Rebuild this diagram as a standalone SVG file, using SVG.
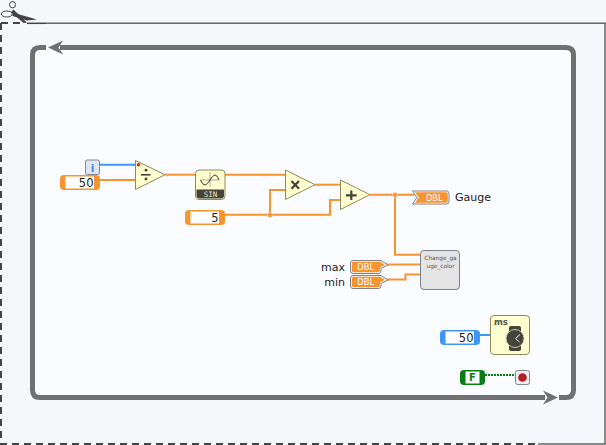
<svg xmlns="http://www.w3.org/2000/svg" width="606" height="445" viewBox="0 0 606 445">
<style>
text{font-family:"DejaVu Sans",sans-serif}
.w{fill:none;stroke:#f7942f;stroke-width:2}
.b{fill:none;stroke:#3f97f5;stroke-width:2}
.prim{fill:#ffffcf;stroke:#8f8a5a;stroke-width:1;stroke-linejoin:round}
.sym{fill:#44443a}
.const{fill:#f7942f}
.val{font-size:11.500px;fill:#222;text-anchor:end}
.lab{font-size:11px;fill:#222}
.dbl{font-size:8.300px;fill:#fff;text-anchor:middle}
.termo{fill:#fbfcff;stroke:#7d8288;stroke-width:1}
.j{fill:#f7942f;stroke:#fdd9b0;stroke-width:.7}
</style>
<rect width="606" height="445" fill="#f5f8fb"/>
<g id="frame">
<rect x="32" y="47" width="542" height="351" rx="7" fill="#fbfcff"/>
<path d="M46 47.500H40Q32.500 47.500 32.500 55V390Q32.500 397.500 40 397.500H545" fill="none" stroke="#707070" stroke-width="5"/>
<path d="M559 397.500H566Q573.500 397.500 573.500 390V55Q573.500 47.500 566 47.500H60" fill="none" stroke="#707070" stroke-width="5"/>
<path d="M48 47.500L63 40.500L58.500 47.500L63 54.500Z" fill="#707070"/>
<path d="M558 397.500L543 390.500L547.500 397.500L543 404.500Z" fill="#707070"/>
<path d="M27 23.300H46" fill="none" stroke="#444" stroke-width="1.500"/>
<path d="M46 23.300H606M605 23V444M606 444H538" fill="none" stroke="#666" stroke-width="1.500"/>
<path d="M20 23H0M1 23V444H538" fill="none" stroke="#444" stroke-width="2" stroke-dasharray="7 5"/>
<g id="scissors">
<path d="M13.500 9.500L27 22.800L23.500 23L11 12Z" fill="#444"/>
<path d="M12.500 12.500L37 19.500L27 20.500L12.500 16Z" fill="#444"/>
<ellipse cx="12.500" cy="4.700" rx="3" ry="3.200" fill="#f5f8fb" stroke="#444" stroke-width="1"/>
<ellipse cx="6.800" cy="14" rx="5.500" ry="3" fill="#f5f8fb" stroke="#444" stroke-width="1"/>
</g>
</g>
<g id="wires">
<path class="b" d="M100 164.700H136"/>
<path class="w" d="M99 180H136"/>
<path class="w" d="M165 174.700H196"/>
<path class="w" d="M225 174.700H286"/>
<path class="w" d="M225 214.700H330V200H341"/>
<path class="w" d="M270 214.700V190H286"/>
<path class="w" d="M315 184.700H341"/>
<path class="w" d="M370 194.700H414"/>
<path class="w" d="M395 194.700V254.700H421"/>
<path class="w" d="M386 264.500H421"/>
<path class="w" d="M386 279.500H405.500V274.500H421"/>
<path class="b" d="M479 335H491"/>
<path d="M485 375H516" fill="none" stroke="#0a7d12" stroke-width="2" stroke-dasharray="2 1"/>
<circle cx="270" cy="215" r="2.500" class="j"/>
<circle cx="395" cy="195" r="2.500" class="j"/>
</g>
<g id="i-terminal">
<rect x="85.500" y="160" width="14" height="14.500" rx="2" fill="#dfe6f2" stroke="#80868e"/>
<text x="92.500" y="171.500" font-size="10.500" font-weight="bold" text-anchor="middle" fill="#3f87e5">i</text>
</g>
<g id="const-50">
<rect x="60" y="175" width="40" height="15" rx="4" class="const"/>
<rect x="65.500" y="176.500" width="28.500" height="12" fill="#fff"/>
<text x="93.500" y="186.500" class="val">50</text>
</g>
<g id="divide">
<path class="prim" d="M135.500 160.500L165 174.700L135.500 189.500Z"/>
<circle cx="138.500" cy="164.700" r="1.800" fill="#ee2222"/>
<rect x="141" y="174" width="9.500" height="1.600" class="sym"/>
<circle cx="146" cy="170.200" r="1.400" class="sym"/><circle cx="146" cy="179" r="1.400" class="sym"/>
</g>
<g id="sine">
<rect x="195.500" y="170" width="29.500" height="29.500" rx="3.500" class="prim"/>
<path d="M196.500 189.500H224V195.500Q224 198.500 221 198.500H199.500Q196.500 198.500 196.500 195.500Z" fill="#44443a"/>
<text x="210.500" y="196.800" font-size="7.500" fill="#e8e8d8" text-anchor="middle" style="font-family:'DejaVu Sans Mono',monospace">SIN</text>
<path d="M200.500 180H219M210 172V187" stroke="#777" stroke-width=".6" fill="none"/>
<path d="M200.500 180C204 187 206 186 210 180S216 173 219 180" stroke="#333" stroke-width="1" fill="none"/>
</g>
<g id="const-5">
<rect x="185" y="210" width="40" height="15" rx="4" class="const"/>
<rect x="190.500" y="211.500" width="28.500" height="12" fill="#fff"/>
<text x="218.500" y="221.500" class="val">5</text>
</g>
<g id="multiply">
<path class="prim" d="M285.500 170L315 184.700L285.500 199.500Z"/>
<path d="M291.500 181L299 188.800M299 181L291.500 188.800" stroke="#44443a" stroke-width="2.200"/>
</g>
<g id="add">
<path class="prim" d="M340.500 180L370 194.700L340.500 209.500Z"/>
<path d="M346 195.300H356.700M351.300 190.500V200" stroke="#44443a" stroke-width="2.200"/>
</g>
<g id="gauge">
<path d="M412.500 191H446.500Q449 191 449 193.500V201.500Q449 204 446.500 204H412.500L417 197.500Z" class="termo"/>
<path d="M415 192.300H446Q447.800 192.300 447.800 194V201Q447.800 202.800 446 202.800H415L419 197.500Z" fill="#f7942f"/>
<text x="434.300" y="200.800" class="dbl">DBL</text>
<text x="455" y="201" class="lab">Gauge</text>
</g>
<g id="subvi">
<rect x="420.500" y="250.500" width="39" height="39" rx="3.500" fill="#e4e4e4" stroke="#7d8288"/>
<text x="440.500" y="259.500" font-size="5.800" fill="#555" text-anchor="middle">Change_ga</text>
<text x="440.500" y="268" font-size="5.800" fill="#555" text-anchor="middle">uge_color</text>
</g>
<g id="max">
<path d="M353 260.500H381L388 265L381 268.500V271Q381 273.500 378.500 273.500H353Q350.500 273.500 350.500 271V263Q350.500 260.500 353 260.500Z" class="termo"/>
<path d="M353.500 261.800H380L385 265L380 267.500V270Q380 272.300 378 272.300H353.500Q351.800 272.300 351.800 270V263.500Q351.800 261.800 353.500 261.800Z" fill="#f7942f"/>
<text x="365.700" y="270.300" class="dbl">DBL</text>
<text x="345" y="271" class="lab" text-anchor="end">max</text>
</g>
<g id="min">
<path d="M353 275.500H381L388 280L381 283.500V286Q381 288.500 378.500 288.500H353Q350.500 288.500 350.500 286V278Q350.500 275.500 353 275.500Z" class="termo"/>
<path d="M353.500 276.800H380L385 280L380 282.500V285Q380 287.300 378 287.300H353.500Q351.800 287.300 351.800 285V278.500Q351.800 276.800 353.500 276.800Z" fill="#f7942f"/>
<text x="365.700" y="285.300" class="dbl">DBL</text>
<text x="345" y="286" class="lab" text-anchor="end">min</text>
</g>
<g id="const-ms">
<rect x="440" y="330" width="40" height="15" rx="4" fill="#3f97f5"/>
<rect x="445.500" y="331.500" width="28.500" height="12" fill="#fff"/>
<text x="473.500" y="341.500" class="val">50</text>
</g>
<g id="wait">
<rect x="490.500" y="315.500" width="39" height="39" rx="3.500" class="prim"/>
<text x="494" y="325" font-size="8.500" font-weight="bold" fill="#55554a">ms</text>
<rect x="509" y="326" width="12" height="25" rx="2" fill="#44443a"/>
<circle cx="515" cy="338.500" r="9" fill="#44443a" stroke="#c9c8ae" stroke-width="1"/>
<path d="M520 334.500L515.500 338.500L519.500 342" stroke="#eee" stroke-width="1" fill="none"/>
</g>
<g id="const-false">
<rect x="460" y="370" width="25" height="15" rx="4" fill="#0a7d12"/>
<rect x="465.500" y="371.500" width="14" height="12" fill="#fff"/>
<text x="472.500" y="381.300" font-size="10" font-weight="bold" fill="#0a7d12" text-anchor="middle">F</text>
</g>
<g id="stop">
<rect x="515.500" y="370.500" width="14" height="14" rx="2" fill="#eeeeee" stroke="#80868e"/>
<circle cx="522.500" cy="377.500" r="4.300" fill="#b01e2a"/>
</g>
</svg>
